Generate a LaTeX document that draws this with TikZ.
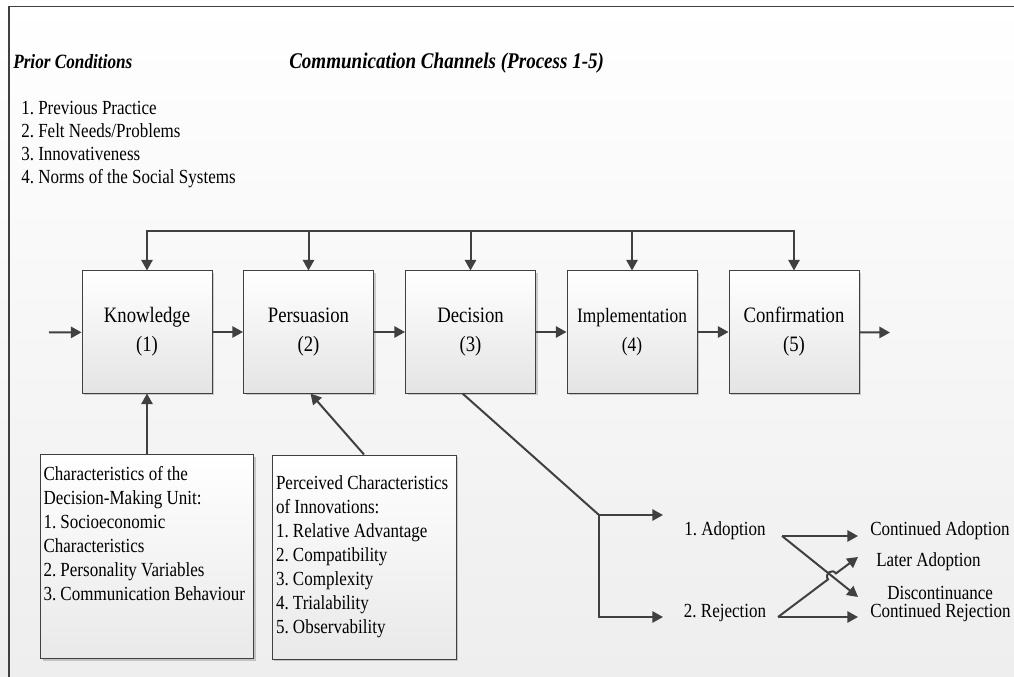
\documentclass[tikz,border=0pt]{standalone}
\usepackage{fontspec}
\setmainfont{Liberation Serif}[FakeStretch=0.85]
\usetikzlibrary{arrows.meta,shadows,calc}
\definecolor{lnc}{HTML}{404040}
\definecolor{bgb}{HTML}{EEEEEE}
\definecolor{boxb}{HTML}{E4E4E4}
\definecolor{infb}{HTML}{E9E9E9}
\frenchspacing
\begin{document}
\begin{tikzpicture}[x=0.75pt,y=-0.75pt,
  every node/.style={font=\fontsize{15pt}{18pt}\selectfont\frenchspacing, text=black},
  ln/.style={draw=lnc, line width=1.5pt},
  arr/.style={ln, -{Triangle[length=8pt,width=8.5pt]}},
  shad/.style={drop shadow={shadow xshift=1.8pt, shadow yshift=-1.8pt, fill=black, opacity=0.18}},
  stage/.style={draw=lnc, line width=0.75pt, minimum width=97.5pt, minimum height=91.5pt,
    inner sep=0pt, align=center, top color=white, bottom color=boxb, shad,
    font=\fontsize{16.5pt}{21.75pt}\selectfont},
  infobox/.style={draw=lnc, line width=0.75pt, top color=white, bottom color=infb, shad},
  lbl/.style={inner sep=0pt, anchor=west},
]
\useasboundingbox (0,0) rectangle (1014,677);
\shade[top color=white,bottom color=bgb] (0pt,0pt) rectangle (760.5pt,-507.75pt);
\draw[lnc, line width=1pt] (1014,6.5) -- (9,6.5) -- (9,677);

% titles
\node[lbl, font=\fontsize{15.2pt}{18pt}\selectfont\bfseries\itshape] (pct) at (13,62) {Prior Conditions};
\node[lbl, font=\fontsize{16.8pt}{18pt}\selectfont\bfseries\itshape] (cct) at (289,63) {Communication Channels (Process 1-5)};
\node[lbl, align=left, font=\fontsize{15pt}{17.25pt}\selectfont\frenchspacing] (pcl) at (21,145)
  {1. Previous Practice\\2. Felt Needs/Problems\\3. Innovativeness\\4. Norms of the Social Systems};

% stages
\node[stage] (k) at (147,332) {Knowledge\\(1)};
\node[stage] (p) at (308.5,332) {Persuasion\\(2)};
\node[stage] (d) at (470.5,332) {Decision\\(3)};
\node[stage, font=\fontsize{15.3pt}{21.75pt}\selectfont] (i) at (632,332) {Implementation\\(4)};
\node[stage] (c) at (794,332) {Confirmation\\(5)};

\coordinate (in) at (49,332.5);
\coordinate (out) at (890,332.5);
\coordinate (bus) at (0,231);
\draw[arr] (in) -- (k);
\draw[arr] (k) -- (p);
\draw[arr] (p) -- (d);
\draw[arr] (d) -- (i);
\draw[arr] (i) -- (c);
\draw[arr] (c) -- (out);
\draw[arr] (c.north |- bus) -| (k.north);
\draw[arr] (k.north |- bus) -| (c.north);
\draw[arr] (p.north |- bus) -- (p.north);
\draw[arr] (d.north |- bus) -- (d.north);
\draw[arr] (i.north |- bus) -- (i.north);

% bottom boxes
\node[infobox, anchor=north west, inner xsep=2.25pt, inner ysep=0pt] (ch) at (40,454)
 {\begin{minipage}[t][153pt][t]{155.25pt}\frenchspacing\vspace*{9pt}Characteristics of the\\Decision-Making Unit:\\1. Socioeconomic\\Characteristics\\2. Personality Variables\\3. Communication Behaviour\end{minipage}};
\node[infobox, minimum height=153pt, text width=132pt, inner xsep=3pt, align=flush left,
  font=\fontsize{15pt}{18pt}\selectfont\frenchspacing] (pc) at (364,557)
 {Perceived Characteristics\\of Innovations:\\1. Relative Advantage\\2. Compatibility\\3. Complexity\\4. Trialability\\5. Observability};
\draw[arr] (ch.north) -- (k.south);
\draw[arr] (pc.north) -- ($(p.south)+(2,0)$);

% decision branches
\coordinate (br) at (599,515);
\coordinate (ae) at (663,515);
\coordinate (re) at (663,617);
\draw[ln] ($(d.south)+(-8,0)$) -- (br);
\draw[arr] (br) -- (ae);
\draw[arr] (br) |- (re);

\node[inner sep=0pt] (ad) at (725,531) {1. Adoption};
\node[inner sep=0pt] (rj) at (725,613) {2. Rejection};
\node[lbl] (ca) at (870,531) {Continued Adoption};
\node[lbl] (la) at (876,562) {Later Adoption};
\node[lbl] (dc) at (887,593) {Discontinuance};
\node[lbl] (cr) at (870,613) {Continued Rejection};

\coordinate (a0) at (782,536);
\coordinate (a1) at (858,536);
\coordinate (a2) at (858,597);
\coordinate (r0) at (778,617);
\coordinate (r1) at (858,617);
\coordinate (r2) at (858,557);
\coordinate (j1) at (828,579.4);
\coordinate (j2) at (836,573.4);
\coordinate (jc1) at (824,574);
\coordinate (jc2) at (832,568);
\draw[arr] (a0) -- (a1);
\draw[arr] (a0) -- (a2);
\draw[arr] (r0) -- (r1);
\draw[arr] (r0) -- (j1) .. controls (jc1) and (jc2) .. (j2) -- (r2);
\end{tikzpicture}
\end{document}
